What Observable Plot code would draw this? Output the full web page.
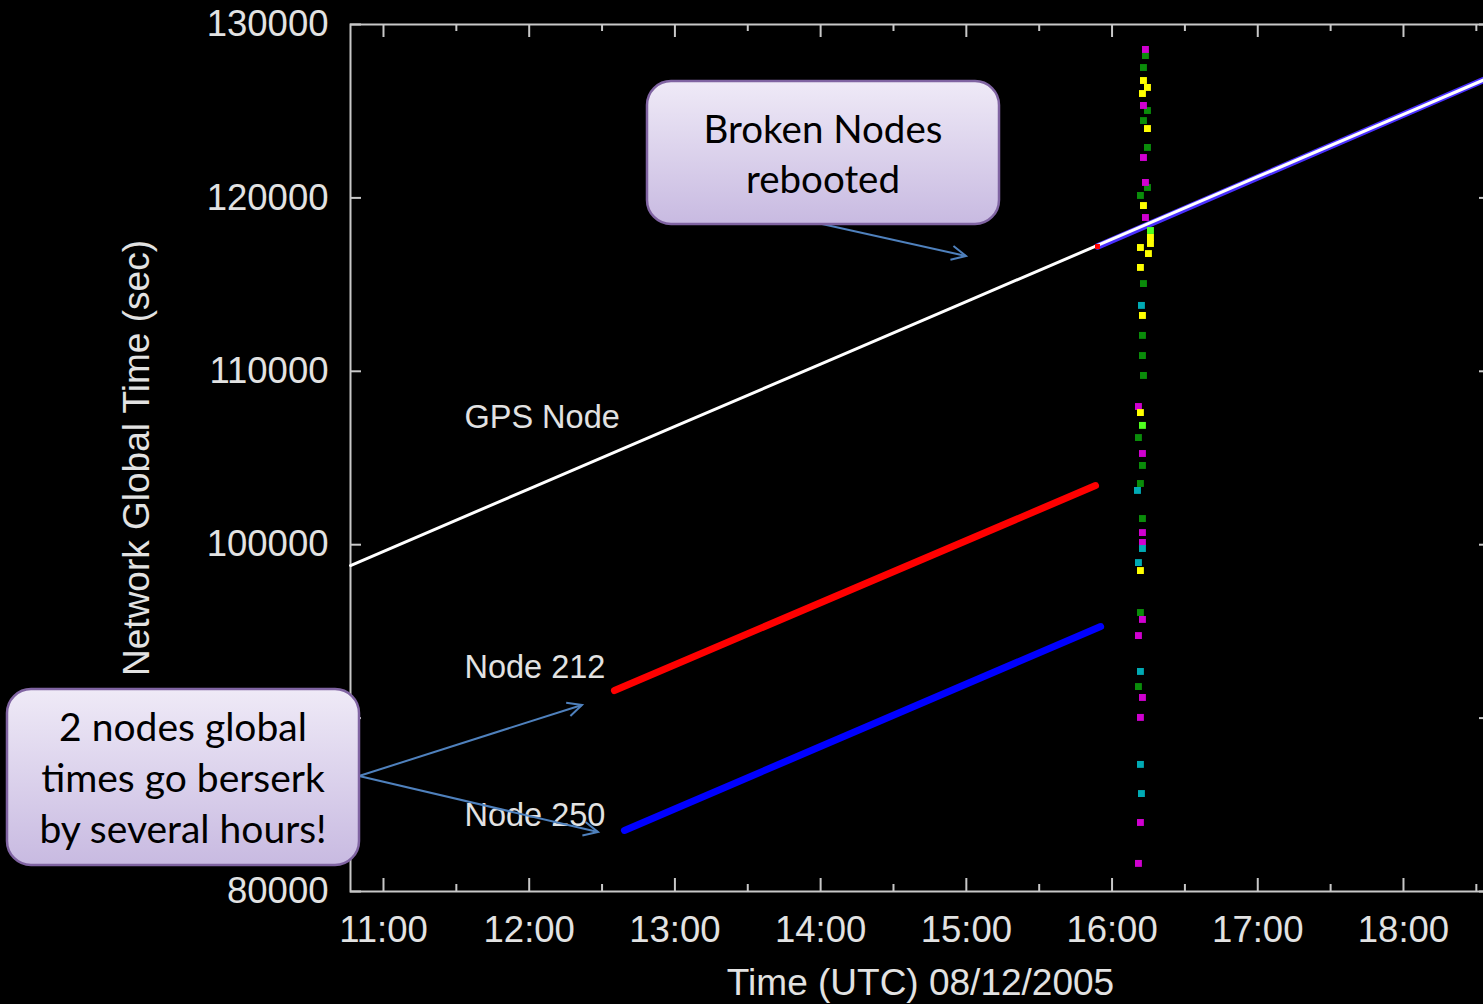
<!DOCTYPE html>
<html>
<head>
<meta charset="utf-8">
<script src="https://cdn.jsdelivr.net/npm/d3@7"></script>
<script src="https://cdn.jsdelivr.net/npm/@observablehq/plot@0.6"></script>
<style>
  html, body { margin: 0; padding: 0; background: #000; overflow: hidden; }
  #wrap { position: relative; width: 1483px; height: 1004px; overflow: hidden; }
  #wrap > svg { max-width: none !important; display: block; }
  #overlay { position: absolute; left: 0; top: 0; pointer-events: none; }
  .callout { font-family: Lato, "Open Sans", sans-serif; fill: #000; }
</style>
</head>
<body>
<div id="wrap"></div>
<script>
// ---- data ----
const dateStr = "2005-08-12";
const hourTicks = ["11:00:00","12:00:00","13:00:00","14:00:00","15:00:00","16:00:00","17:00:00","18:00:00"];
const halfHourTicks = ["11:30:00","12:30:00","13:30:00","14:30:00","15:30:00","16:30:00","17:30:00","18:30:00"];
const valueTicks = [80000, 90000, 100000, 110000, 120000, 130000];
// 90000 label is hidden behind the callout in the reference
const valueTickLabels = [80000, 100000, 110000, 120000, 130000];
const xDomain = ["10:46:25", "18:35:50"];
const yDomain = [80000, 130000];

// GPS node (reference clock)
const gpsTime  = ["10:46:25","12:00:00","13:00:00","14:00:00","15:00:00","15:54:00","16:00:00","17:00:00","18:00:00","18:35:50"];
const gpsValue = [98800, 103220, 106820, 110420, 114020, 117260, 117620, 121220, 124820, 126970];

// Node 212 (red) before reboot
const node212Time  = ["12:35:06", "15:53:12"];
const node212Value = [91590, 103410];

// Node 250 (blue) before reboot
const node250Time  = ["12:39:12", "15:55:18"];
const node250Value = [83520, 95280];

// rebooted nodes following the GPS time
const rebootTime  = ["15:54:00", "18:35:50"];
const rebootValue = [117200, 126970];
const redJumpTime = ["15:54:00"];
const redJumpValue = [117200];

// burst of readings from other nodes around 16:12
const magentaTime  = ["16:13:45","16:12:56","16:12:56","16:13:45","16:13:45","16:10:52","16:12:31","16:12:31","16:12:31","16:12:31","16:10:52","16:12:31","16:11:41","16:11:41","16:10:52"];
const magentaValue = [128560, 125330, 122330, 120890, 118870, 107970, 105260, 100700, 100130, 95690, 94760, 91190, 90040, 83980, 81620];
const greenTime  = ["16:13:45","16:12:56","16:14:35","16:12:56","16:14:35","16:14:35","16:11:41","16:12:56","16:12:31","16:12:31","16:12:56","16:10:52","16:12:31","16:11:41","16:12:31","16:11:41","16:10:52"];
const greenValue = [128210, 127520, 125040, 124460, 122910, 120600, 120140, 115060, 112070, 110910, 109760, 106180, 104570, 103530, 101510, 96090, 91820];
const yellowTime  = ["16:12:56","16:14:35","16:12:31","16:14:35","16:12:56","16:15:49","16:11:41","16:14:59","16:15:49","16:11:41","16:12:31","16:11:41","16:11:41"];
const yellowValue = [126770, 126370, 126020, 124000, 119560, 117720, 117140, 116790, 117370, 115990, 113220, 107620, 98510];
const limeTime  = ["16:15:49", "16:12:31"];
const limeValue = [118120, 106880];
const cyanTime  = ["16:12:06","16:10:28","16:12:31","16:10:52","16:11:41","16:11:41","16:12:06"];
const cyanValue = [113800, 103130, 99780, 98970, 92690, 87330, 85650];

// text labels
const seriesLabels = ["GPS Node", "Node 212", "Node 250"];
const seriesLabelTime = ["11:33:20", "11:33:20", "11:33:20"];
const seriesLabelValue = [107340, 92920, 84380];
const xLabel = "Time (UTC) 08/12/2005";
const yLabel = "Network Global Time (sec)";

// ---- build ----
const t = s => new Date(`${dateStr}T${s}Z`);
const pts = (ts, vs) => ts.map((s, i) => ({t: t(s), v: vs[i]}));

const W = 1495, H = 1004, mL = 350, mR = 5, mT = 24, mB = 113;
const plotH = H - mT - mB, plotW = W - mL - mR;
const axisColor = "#c8c8c8";
const textColor = "#e2e2e2";

const burst = [
  ...pts(greenTime, greenValue).map(d => ({...d, c: "#0a8c0a"})),
  ...pts(magentaTime, magentaValue).map(d => ({...d, c: "#d000d0"})),
  ...pts(yellowTime, yellowValue).map(d => ({...d, c: "#ffff00"})),
  ...pts(cyanTime, cyanValue).map(d => ({...d, c: "#00aab4"})),
  ...pts(limeTime, limeValue).map(d => ({...d, c: "#50ff20"}))
];

const chart = Plot.plot({
  width: W, height: H,
  marginLeft: mL, marginRight: mR, marginTop: mT, marginBottom: mB,
  x: {type: "utc", domain: xDomain.map(t)},
  y: {domain: yDomain},
  style: {background: "#000", color: textColor, fontFamily: "'Liberation Sans', Arial, sans-serif", fontSize: "36px", overflow: "visible", maxWidth: "none"},
  marks: [
    // inward ticks (bottom, top, left, right)
    Plot.ruleX(hourTicks.map(t), {x: d => d, insetTop: plotH - 13, stroke: axisColor, strokeWidth: 2}),
    Plot.ruleX(halfHourTicks.map(t), {x: d => d, insetTop: plotH - 7, stroke: axisColor, strokeWidth: 2}),
    Plot.ruleX(hourTicks.map(t), {x: d => d, insetBottom: plotH - 13, stroke: axisColor, strokeWidth: 2}),
    Plot.ruleX(halfHourTicks.map(t), {x: d => d, insetBottom: plotH - 7, stroke: axisColor, strokeWidth: 2}),
    Plot.ruleY(valueTicks, {y: d => d, insetRight: plotW - 11, stroke: axisColor, strokeWidth: 2}),
    Plot.ruleY(valueTicks, {y: d => d, insetLeft: plotW - 11, stroke: axisColor, strokeWidth: 2}),
    Plot.frame({stroke: axisColor, strokeWidth: 2}),
    Plot.axisX(hourTicks.map(t), {tickSize: 0, tickPadding: 25, tickFormat: d3.utcFormat("%H:%M"), label: null, fontSize: 36.5, fill: textColor}),
    Plot.axisY(valueTickLabels, {tickSize: 0, tickPadding: 22, tickFormat: d3.format("d"), label: null, fontSize: 36.5, fill: textColor}),
    Plot.text([yLabel], {text: d => d, frameAnchor: "left", textAnchor: "middle", dx: -213, rotate: -90, fontSize: 37, fill: textColor}),
    Plot.text([xLabel], {text: d => d, frameAnchor: "bottom", textAnchor: "middle", lineAnchor: "middle", dy: 92, fontSize: 37, fill: textColor}),
    // series
    Plot.line(pts(rebootTime, rebootValue), {x: "t", y: "v", stroke: "#4a30ff", strokeWidth: 6.5}),
    Plot.line(pts(node212Time, node212Value), {x: "t", y: "v", stroke: "#ff0000", strokeWidth: 7}),
    Plot.line(pts(node250Time, node250Value), {x: "t", y: "v", stroke: "#0000ff", strokeWidth: 7}),
    Plot.line(pts(gpsTime, gpsValue), {x: "t", y: "v", stroke: "#ffffff", strokeWidth: 3}),
    Plot.dot(pts(redJumpTime, redJumpValue), {x: "t", y: "v", symbol: "square", r: 2.8, fill: "#ff0000"}),
    Plot.dot(burst, {x: "t", y: "v", symbol: "square", r: 3.9, fill: "c"}),
    // series labels
    Plot.text(seriesLabels, {x: (d, i) => t(seriesLabelTime[i]), y: (d, i) => seriesLabelValue[i], text: d => d, textAnchor: "start", fontSize: 32.5, fill: textColor})
  ]
});
document.getElementById("wrap").appendChild(chart);

// ---- callout annotations (overlay) ----
const ov = d3.select("#wrap").append("svg").attr("id", "overlay").attr("width", 1483).attr("height", 1004);
const defs = ov.append("defs");
const grad = defs.append("linearGradient").attr("id", "callg").attr("x1", 0).attr("y1", 0).attr("x2", 0).attr("y2", 1);
grad.append("stop").attr("offset", "0%").attr("stop-color", "#efeaf7");
grad.append("stop").attr("offset", "100%").attr("stop-color", "#c8bae1");

const callouts = [
  {x: 647, y: 81, w: 352, h: 143, cx: 823, size: 38.5, lines: ["Broken Nodes", "rebooted"], base: [143, 193]},
  {x: 7, y: 689, w: 352, h: 176, cx: 183, size: 39, lines: ["2 nodes global", "times go berserk", "by several hours!"], base: [741, 792, 843]}
];
const arrows = [
  [[822, 224], [966, 256]],
  [[359, 776], [582, 705]],
  [[359, 776], [598, 832]]
];
const arrowColor = "#4f81bd";
arrows.forEach(([[x1, y1], [x2, y2]]) => {
  ov.append("line").attr("x1", x1).attr("y1", y1).attr("x2", x2).attr("y2", y2)
    .attr("stroke", arrowColor).attr("stroke-width", 2);
  const a = Math.atan2(y2 - y1, x2 - x1), L = 16, s = 0.45;
  const p1 = [x2 - L * Math.cos(a - s), y2 - L * Math.sin(a - s)];
  const p2 = [x2 - L * Math.cos(a + s), y2 - L * Math.sin(a + s)];
  ov.append("path").attr("d", `M${p1}L${x2},${y2}L${p2}`).attr("fill", "none")
    .attr("stroke", arrowColor).attr("stroke-width", 2);
});
callouts.forEach(c => {
  ov.append("rect").attr("x", c.x).attr("y", c.y).attr("width", c.w).attr("height", c.h)
    .attr("rx", 24).attr("fill", "url(#callg)").attr("stroke", "#8064a2").attr("stroke-width", 2.5);
  c.lines.forEach((l, i) => {
    ov.append("text").attr("class", "callout").attr("x", c.cx).attr("y", c.base[i])
      .attr("font-size", c.size).attr("text-anchor", "middle").text(l);
  });
});
</script>
</body>
</html>
